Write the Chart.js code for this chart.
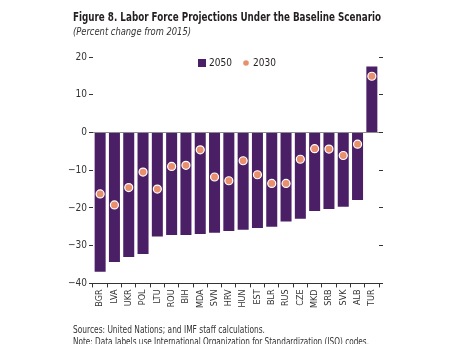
<!DOCTYPE html>
<html>
<head>
<meta charset="utf-8">
<script src="https://cdn.jsdelivr.net/npm/chart.js@4"></script>
<style>
  html, body { margin: 0; padding: 0; background: #fff; }
  body { width: 471px; height: 344px; position: relative; overflow: hidden;
         font-family: "Liberation Sans Narrow", "DejaVu Sans Condensed", "Liberation Sans", sans-serif; color: #231f20; }
  #wrap { position: absolute; left: 0; top: 0; width: 471px; height: 344px; }
  .txt { position: absolute; left: 73px; white-space: nowrap; transform-origin: 0 0; }
  .title { top: 9px; font-weight: bold; font-size: 13px; }
  .sub { top: 25px; font-style: italic; font-size: 11px; color: #333; }
  .note { font-size: 10.5px; color: #333; }
</style>
</head>
<body>
<div id="wrap"><canvas id="c" width="471" height="344"></canvas></div>
<div class="txt title" data-w="308">Figure 8. Labor Force Projections Under the Baseline Scenario</div>
<div class="txt sub" data-w="118">(Percent change from 2015)</div>
<div class="txt note" data-w="192" style="top:323px">Sources: United Nations; and IMF staff calculations.</div>
<div class="txt note" data-w="296" style="top:335px">Note: Data labels use International Organization for Standardization (ISO) codes.</div>
<script>
const countries = ["BGR","LVA","UKR","POL","LTU","ROU","BIH","MDA","SVN","HRV","HUN","EST","BLR","RUS","CZE","MKD","SRB","SVK","ALB","TUR"];
const change2050 = [-36.9,-34.3,-33.0,-32.2,-27.6,-27.2,-27.2,-26.9,-26.6,-26.1,-25.8,-25.3,-25.0,-23.6,-22.9,-20.8,-20.3,-19.7,-17.9,17.5];
const change2030 = [-16.3,-19.2,-14.6,-10.5,-15.0,-9.0,-8.7,-4.6,-11.8,-12.8,-7.5,-11.2,-13.5,-13.5,-7.1,-4.3,-4.4,-6.1,-3.1,14.9];
const yTicks = [-40,-30,-20,-10,0,10,20];

const PURPLE = "#4a1f66";
const SALMON = "#e8906e";
const FONT = "'Liberation Sans Narrow', 'DejaVu Sans Condensed', sans-serif";

// condense heading and note lines to their set widths
document.querySelectorAll(".txt").forEach(el => {
  const w = el.getBoundingClientRect().width;
  const target = parseFloat(el.dataset.w);
  el.style.transform = "scaleX(" + (target / w) + ")";
});

// legend drawn inside the plot area, near the top
const innerLegend = {
  id: "innerLegend",
  afterDraw(chart) {
    const ctx = chart.ctx;
    ctx.save();
    ctx.font = "10px " + FONT;
    ctx.textBaseline = "middle";
    ctx.fillStyle = PURPLE;
    ctx.fillRect(198, 59, 8, 8);
    ctx.fillStyle = "#231f20";
    ctx.fillText(chart.data.datasets[0].label, 209, 63.5);
    ctx.beginPath();
    ctx.arc(246, 63, 2.8, 0, Math.PI * 2);
    ctx.fillStyle = SALMON;
    ctx.fill();
    ctx.fillStyle = "#231f20";
    ctx.fillText(chart.data.datasets[1].label, 253, 63.5);
    ctx.restore();
  }
};

const fmt = v => (v < 0 ? "\u2212" + Math.abs(v) : String(v));

new Chart(document.getElementById("c"), {
  type: "bar",
  data: {
    labels: countries,
    datasets: [
      { label: "2050", data: change2050, backgroundColor: PURPLE, order: 2,
        categoryPercentage: 1, barPercentage: 0.77 },
      { label: "2030", type: "line", data: change2030, showLine: false, order: 1,
        pointRadius: 4, pointBackgroundColor: SALMON, pointBorderColor: "#ffffff",
        pointBorderWidth: 1.2 }
    ]
  },
  options: {
    responsive: false,
    animation: false,
    devicePixelRatio: 1,
    layout: { padding: { top: 57, left: 66, right: 88, bottom: 34 } },
    plugins: { legend: { display: false }, tooltip: { enabled: false }, title: { display: false } },
    scales: {
      x: {
        grid: { color: "transparent", tickColor: "#333", tickLength: 4, offset: true },
        border: { display: true, color: "#333", width: 1 },
        ticks: { color: "#333", font: { family: FONT, size: 9 }, minRotation: 90, maxRotation: 90, padding: 2, autoSkip: false }
      },
      y: {
        min: -40, max: 20,
        afterBuildTicks: s => { s.ticks = yTicks.map(v => ({ value: v })); },
        grid: { color: c => (c.tick && c.tick.value === 0 ? "#8c8c8c" : "transparent"), tickColor: "#333", tickLength: 4 },
        border: { display: false },
        ticks: { color: "#333", font: { family: FONT, size: 10 }, padding: 2, callback: v => fmt(v) }
      },
      y2: {
        position: "right", min: -40, max: 20,
        afterBuildTicks: s => { s.ticks = yTicks.map(v => ({ value: v })); },
        grid: { drawOnChartArea: false, tickColor: "#333", tickLength: 4 },
        border: { display: false },
        ticks: { display: false }
      }
    }
  },
  plugins: [innerLegend]
});
</script>
</body>
</html>
